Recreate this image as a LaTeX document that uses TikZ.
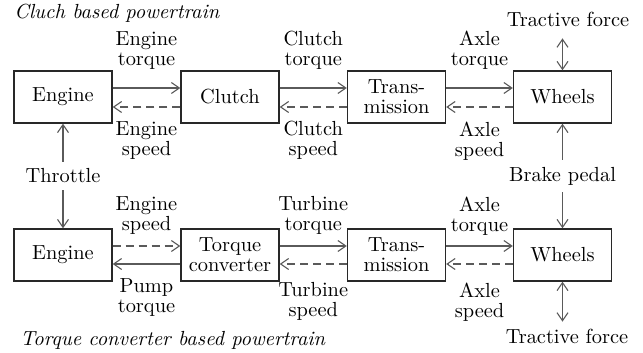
\documentclass[tikz,border=0pt]{standalone}
\usetikzlibrary{arrows.meta}
\definecolor{boxline}{RGB}{40,40,40}
\definecolor{arrline}{RGB}{90,90,90}

\tikzset{
  blk/.style={draw=boxline, line width=0.7pt, minimum width=49pt, minimum height=26pt,
    align=center, inner sep=1pt},
  lbl/.style={align=center, inner sep=0pt},
  flow/.style={draw=arrline, line width=0.55pt, -{Straight Barb[length=4pt,width=5.5pt]}},
  back/.style={flow, dash pattern=on 4pt off 2.5pt},
  both/.style={flow, {Straight Barb[length=4pt,width=5.5pt]}-{Straight Barb[length=4pt,width=5.5pt]}},
}

\begin{document}
\begin{tikzpicture}[x=0.5pt, y=-0.5pt, font=\fontsize{10.2}{10}\selectfont]
  \useasboundingbox (0,0) rectangle (643,353);

  % Titles
  \node[anchor=west, inner sep=0pt] (ttl1) at (14,13) {\itshape Cluch based powertrain};
  \node[anchor=west, inner sep=0pt] (ttl2) at (20,340) {\itshape Torque converter based powertrain};

  % Clutch based powertrain
  \node[blk] (eng1) at (63,97) {Engine};
  \node[blk] (clu) at (230,97) {Clutch};
  \node[blk] (tra1) at (396.5,97) {Trans-\\mission};
  \node[blk] (whl1) at (562.5,97) {Wheels};

  \draw[flow] ([yshift=4.5pt]eng1.east) -- node[lbl, above=9pt] {Engine\\torque} ([yshift=4.5pt]clu.west);
  \draw[back] ([yshift=-5pt]clu.west) -- node[lbl, below=7pt] {Engine\\speed} ([yshift=-5pt]eng1.east);
  \draw[flow] ([yshift=4.5pt]clu.east) -- node[lbl, above=9pt] {Clutch\\torque} ([yshift=4.5pt]tra1.west);
  \draw[back] ([yshift=-5pt]tra1.west) -- node[lbl, below=7pt] {Clutch\\speed} ([yshift=-5pt]clu.east);
  \draw[flow] ([yshift=4.5pt]tra1.east) -- node[lbl, above=9pt] {Axle\\torque} ([yshift=4.5pt]whl1.west);
  \draw[back] ([yshift=-5pt]whl1.west) -- node[lbl, below=7pt] {Axle\\speed} ([yshift=-5pt]tra1.east);

  % Torque converter based powertrain
  \node[blk] (eng2) at (63,255) {Engine};
  \node[blk] (tc) at (230,255) {Torque\\converter};
  \node[blk] (tra2) at (396.5,255) {Trans-\\mission};
  \node[blk] (whl2) at (562.5,255) {Wheels};

  \draw[back] ([yshift=4.5pt]eng2.east) -- node[lbl, above=5.5pt] {Engine\\speed} ([yshift=4.5pt]tc.west);
  \draw[flow] ([yshift=-4.5pt]tc.west) -- node[lbl, below=7pt] {Pump\\torque} ([yshift=-4.5pt]eng2.east);
  \draw[flow] ([yshift=4.5pt]tc.east) -- node[lbl, above=5.5pt] {Turbine\\torque} ([yshift=4.5pt]tra2.west);
  \draw[back] ([yshift=-4.5pt]tra2.west) -- node[lbl, below=9pt] {Turbine\\speed} ([yshift=-4.5pt]tc.east);
  \draw[flow] ([yshift=4.5pt]tra2.east) -- node[lbl, above=5pt] {Axle\\torque} ([yshift=4.5pt]whl2.west);
  \draw[back] ([yshift=-4.5pt]whl2.west) -- node[lbl, below=9pt] {Axle\\speed} ([yshift=-4.5pt]tra2.east);

  % Driver inputs
  \node (thr) at (63,176) {Throttle};
  \draw[flow] (thr) -- (eng1);
  \draw[flow] (thr) -- (eng2);
  \node (brk) at (562.5,176) {Brake pedal};
  \draw[flow] (brk) -- (whl1);
  \draw[flow] (brk) -- (whl2);

  % Road loads
  \node (tf1) at (568,19) {Tractive force};
  \node (tf2) at (567,336) {Tractive force};
  \draw[both] (whl1.north) -- ([yshift=-2.5pt]tf1.south -| whl1.north);
  \draw[both] (whl2.south) -- (tf2.north -| whl2.south);
\end{tikzpicture}
\end{document}
